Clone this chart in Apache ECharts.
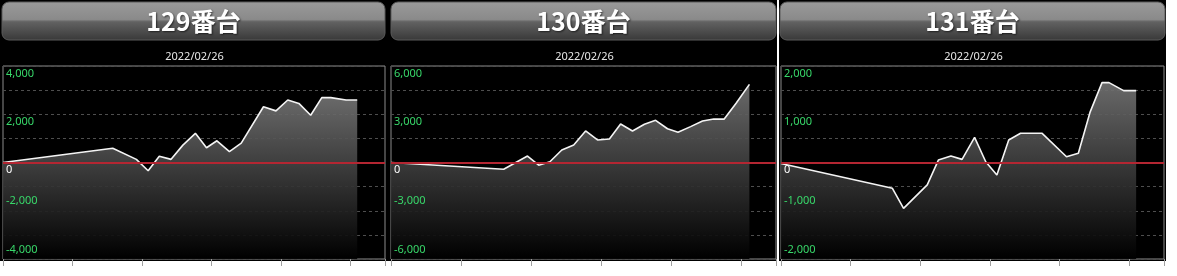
<!DOCTYPE html>
<html><head><meta charset="utf-8">
<script src="https://cdn.jsdelivr.net/npm/echarts@6/dist/echarts.min.js"></script>
<style>
html,body{margin:0;padding:0;background:#fff;width:1177px;height:276px;overflow:hidden}
#bg{position:absolute;left:0;top:0;width:1166px;height:261px;background:#000}
#sep{position:absolute;left:777px;top:0;width:2px;height:276px;background:#fff}
#chart{position:absolute;left:0;top:0;width:1177px;height:276px}
</style></head><body>
<div id="bg"></div><div id="sep"></div><div id="chart"></div>
<script>
// ---- data ----
const titles = ['129番台', '130番台', '131番台'];
const dateLabel = '2022/02/26';
// y axis ranges: min, max, gridline interval; labels every other gridline
const yMin = [-4000, -6000, -2000];
const yMax = [4000, 6000, 2000];
const yStep = [1000, 1500, 500];
const yLabelStep = [2000, 3000, 1000];
// x axis (progress units, ticks every 1)
const xMin = 0, xMax = 5.5, xStep = 1;

const x129 = [0, 1.58, 1.92, 2.09, 2.25, 2.42, 2.59, 2.77, 2.93, 3.08, 3.26, 3.43, 3.75, 3.93, 4.10, 4.26, 4.43, 4.59, 4.72, 4.94, 5.10];
const y129 = [0, 590, 130, -340, 260, 130, 720, 1210, 610, 900, 450, 800, 2310, 2140, 2590, 2450, 1960, 2690, 2690, 2590, 2590];

const x130 = [0, 1.61, 1.95, 2.11, 2.27, 2.44, 2.61, 2.78, 2.95, 3.12, 3.28, 3.45, 3.62, 3.78, 3.95, 4.10, 4.28, 4.45, 4.61, 4.76, 4.93, 5.12];
const y130 = [0, -420, 400, -170, 50, 780, 1090, 1960, 1400, 1460, 2390, 1960, 2380, 2620, 2100, 1880, 2230, 2580, 2700, 2700, 3680, 4860];

const x131 = [0, 1.60, 1.76, 2.10, 2.26, 2.44, 2.60, 2.78, 2.94, 3.10, 3.27, 3.44, 3.75, 4.10, 4.27, 4.44, 4.61, 4.71, 4.92, 5.10];
const y131 = [-20, -535, -950, -465, 50, 135, 65, 520, 15, -260, 465, 605, 605, 120, 190, 1050, 1655, 1655, 1490, 1490];

const seriesX = [x129, x130, x131];
const seriesY = [y129, y130, y131];

// ---- layout ----
const panels = [
  {left: 3, width: 382, hx: 2, hw: 383},
  {left: 391, width: 385, hx: 391, hw: 385},
  {left: 781, width: 383, hx: 780, hw: 385}
];
const gridTop = 66, gridH = 193;

function fmt(v) { return v.toLocaleString('en-US'); }

const chart = echarts.init(document.getElementById('chart'), null, {renderer: 'canvas'});

const grid = [], xAxis = [], yAxis = [], series = [], graphic = [];
panels.forEach((p, i) => {
  grid.push({left: p.left, top: gridTop, width: p.width, height: gridH, show: true,
    borderColor: '#8c8c8c', borderWidth: 1, backgroundColor: 'transparent'});
  xAxis.push({type: 'value', gridIndex: i, min: xMin, max: xMax, interval: xStep, position: 'bottom',
    axisLine: {show: false, onZero: false}, axisLabel: {show: false}, splitLine: {show: false},
    axisTick: {show: true, inside: false, length: 7, lineStyle: {color: '#a0a0a0', width: 1}}});
  const lblStep = yLabelStep[i];
  const common = {type: 'value', gridIndex: i, min: yMin[i], max: yMax[i], interval: yStep[i],
    position: 'left', axisLine: {show: false, onZero: false}, axisTick: {show: false}};
  // gridlines (under the area)
  yAxis.push(Object.assign({}, common, {
    splitLine: {show: true, lineStyle: {color: '#4e4e4e', type: [3, 3], width: 1}},
    axisLabel: {show: false}
  }));
  // labels >= 0 (below their gridline)
  yAxis.push(Object.assign({}, common, {z: 6,
    splitLine: {show: false},
    axisLabel: {inside: true, margin: 3, verticalAlign: 'top', padding: [2, 0, 0, 0],
      fontSize: 11, fontFamily: 'Noto Sans',
      color: v => (v == 0 ? '#ffffff' : '#38d86a'),
      formatter: v => (v >= 0 && v % lblStep === 0 ? fmt(v) : ''),
      showMinLabel: true, showMaxLabel: true}
  }));
  // labels < 0 (above their gridline)
  yAxis.push(Object.assign({}, common, {z: 6,
    splitLine: {show: false},
    axisLabel: {inside: true, margin: 3, verticalAlign: 'bottom', padding: [0, 0, 4, 0],
      fontSize: 11, fontFamily: 'Noto Sans',
      color: '#38d86a',
      formatter: v => (v < 0 && v % lblStep === 0 ? fmt(v) : ''),
      showMinLabel: true, showMaxLabel: true}
  }));
  series.push({type: 'line', xAxisIndex: i, yAxisIndex: 3 * i,
    data: seriesX[i].map((x, k) => [x, seriesY[i][k]]),
    symbol: 'none', animation: false,
    lineStyle: {color: '#f4f4f4', width: 1.6},
    areaStyle: {origin: 'start', opacity: 0.92,
      color: new echarts.graphic.LinearGradient(0, 0, 0, 1, [
        {offset: 0, color: '#727272'}, {offset: 1, color: '#000000'}])},
    markLine: {silent: true, symbol: 'none', animation: false,
      label: {show: false},
      lineStyle: {color: '#b42632', width: 2, type: 'solid'},
      data: [{yAxis: 0}]}
  });
  // header
  graphic.push({type: 'rect', z: 1,
    shape: {x: p.hx, y: 2, width: p.hw, height: 38, r: 7},
    style: {fill: new echarts.graphic.LinearGradient(0, 0, 0, 1, [
      {offset: 0, color: '#9a9a9a'}, {offset: 0.46, color: '#8a8a8a'},
      {offset: 0.52, color: '#626262'}, {offset: 1, color: '#383838'}]),
      stroke: '#5a5a5a', lineWidth: 1}});
  graphic.push({type: 'text', z: 2,
    style: {text: titles[i], x: p.hx + p.hw / 2, y: 21, textAlign: 'center', textVerticalAlign: 'middle',
      font: 'bold 25px "Noto Sans CJK JP", "Noto Sans", sans-serif', fill: '#ffffff',
      textShadowColor: 'rgba(0,0,0,0.6)', textShadowBlur: 2, textShadowOffsetX: 1, textShadowOffsetY: 1}});
  graphic.push({type: 'text', z: 2,
    style: {text: dateLabel, x: p.hx + p.hw / 2 + 1, y: 57, textAlign: 'center', textVerticalAlign: 'middle',
      font: '11px "Noto Sans", sans-serif', fill: '#e6e6e6'}});
});

chart.setOption({
  backgroundColor: 'transparent',
  animation: false,
  grid, xAxis, yAxis, series, graphic
});
</script>
</body></html>
